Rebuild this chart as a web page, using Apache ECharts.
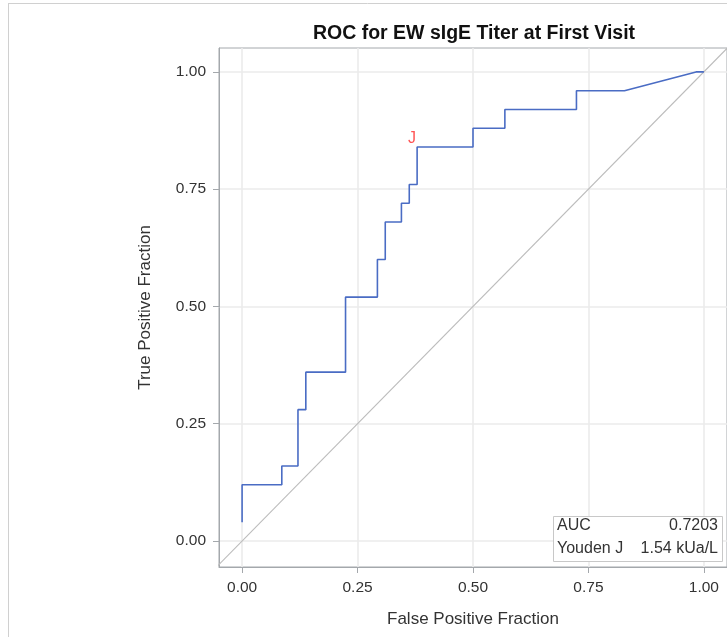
<!DOCTYPE html>
<html>
<head>
<meta charset="utf-8">
<script src="https://cdn.jsdelivr.net/npm/echarts@6/dist/echarts.min.js"></script>
<style>
  html, body { margin: 0; padding: 0; background: #fff; }
  #chart { width: 727px; height: 637px; }
</style>
</head>
<body>
<div id="chart"></div>
<script>
// Text content
const chartTitle = 'ROC for EW sIgE Titer at First Visit';
const xAxisName = 'False Positive Fraction';
const yAxisName = 'True Positive Fraction';
const tickValues = [0, 0.25, 0.5, 0.75, 1];

// ROC curve vertices (false positive fraction, true positive fraction)
const fpr = [0, 0, 0.086, 0.086, 0.121, 0.121, 0.138, 0.138, 0.224, 0.224,
             0.293, 0.293, 0.310, 0.310, 0.345, 0.345, 0.362, 0.362, 0.379, 0.379,
             0.500, 0.500, 0.569, 0.569, 0.724, 0.724, 0.828, 0.983, 1.0];
const tpr = [0.04, 0.12, 0.12, 0.16, 0.16, 0.28, 0.28, 0.36, 0.36, 0.52,
             0.52, 0.60, 0.60, 0.68, 0.68, 0.72, 0.72, 0.76, 0.76, 0.84,
             0.84, 0.88, 0.88, 0.92, 0.92, 0.96, 0.96, 1.0, 1.0];

// Chance diagonal
const chanceX = [-0.06, 1.06];
const chanceY = [-0.06, 1.06];

// Optimal cut-off (Youden J) point
const youdenPoint = [0.379, 0.84];
const youdenLabel = 'J';

// Statistics inset
const statLabels = ['AUC', 'Youden J'];
const statValues = ['0.7203', '1.54 kUa/L'];

const FONT = '"Liberation Sans", Arial, sans-serif';
const AXIS_COLOR = '#a4a8ac';
const GRID_COLOR = '#ebebeb';
const TEXT_COLOR = '#333';

const chart = echarts.init(document.getElementById('chart'), null, { renderer: 'canvas' });

function axisCommon(name, nameGap) {
  return {
    type: 'value',
    min: -0.05,
    max: 1.05,
    name: name,
    nameLocation: 'middle',
    nameGap: nameGap,
    nameTextStyle: { fontFamily: FONT, fontSize: 17, color: TEXT_COLOR },
    axisLine: { show: true, onZero: false, lineStyle: { color: AXIS_COLOR, width: 1 } },
    axisTick: { show: true, inside: false, length: 6, customValues: tickValues,
                lineStyle: { color: AXIS_COLOR, width: 1 } },
    axisLabel: { show: true, customValues: tickValues, margin: 13,
                 fontFamily: FONT, fontSize: 15.5, color: TEXT_COLOR,
                 formatter: v => v.toFixed(2) },
    splitLine: { show: true, lineStyle: { color: GRID_COLOR, width: 1.6 } }
  };
}

const xAxis = axisCommon(xAxisName, 44);
const yAxis = axisCommon(yAxisName, 65);
yAxis.min = -0.0554;
yAxis.max = 1.051;

const statRows = statLabels.map((lab, i) => ([
  { type: 'text', left: 557, top: 518 + i * 23,
    style: { text: lab, font: '16px ' + FONT, fill: TEXT_COLOR } },
  { type: 'text', right: 9, top: 518 + i * 23,
    style: { text: statValues[i], font: '16px ' + FONT, fill: TEXT_COLOR, textAlign: 'right' } }
])).flat();

chart.setOption({
  animation: false,
  backgroundColor: '#fff',
  title: {
    text: chartTitle,
    left: 469,
    textAlign: 'center',
    top: 19,
    textStyle: { fontFamily: FONT, fontSize: 19.5, fontWeight: 'bold', color: '#111' }
  },
  grid: {
    show: true,
    left: 219,
    top: 48,
    width: 509,
    height: 519,
    borderColor: AXIS_COLOR,
    borderWidth: 1,
    backgroundColor: '#fff'
  },
  xAxis: xAxis,
  yAxis: yAxis,
  series: [
    {
      type: 'line',
      data: chanceX.map((x, i) => [x, chanceY[i]]),
      symbol: 'none',
      silent: true,
      clip: true,
      lineStyle: { color: '#bcbcbc', width: 1.2 }
    },
    {
      type: 'line',
      data: fpr.map((x, i) => [x, tpr[i]]),
      symbol: 'none',
      lineStyle: { color: '#4a6cc4', width: 1.6 }
    },
    {
      type: 'scatter',
      data: [youdenPoint],
      symbolSize: 0,
      label: {
        show: true,
        formatter: youdenLabel,
        position: 'top',
        offset: [-5, 5],
        fontFamily: FONT,
        fontSize: 16,
        color: '#ff2a2a'
      }
    }
  ],
  graphic: [
    // outer panel border
    { type: 'line', shape: { x1: 8, y1: 3.5, x2: 727, y2: 3.5 }, style: { stroke: '#d0d0d0', lineWidth: 1 } },
    { type: 'line', shape: { x1: 8.5, y1: 3, x2: 8.5, y2: 637 }, style: { stroke: '#d0d0d0', lineWidth: 1 } },
    // statistics inset
    { type: 'rect', shape: { x: 553.5, y: 516.5, width: 169, height: 45 },
      style: { fill: '#fff', stroke: '#c8c8c8', lineWidth: 1 }, z: 10 },
    ...statRows.map(t => Object.assign(t, { z: 11 }))
  ]
});
</script>
</body>
</html>
